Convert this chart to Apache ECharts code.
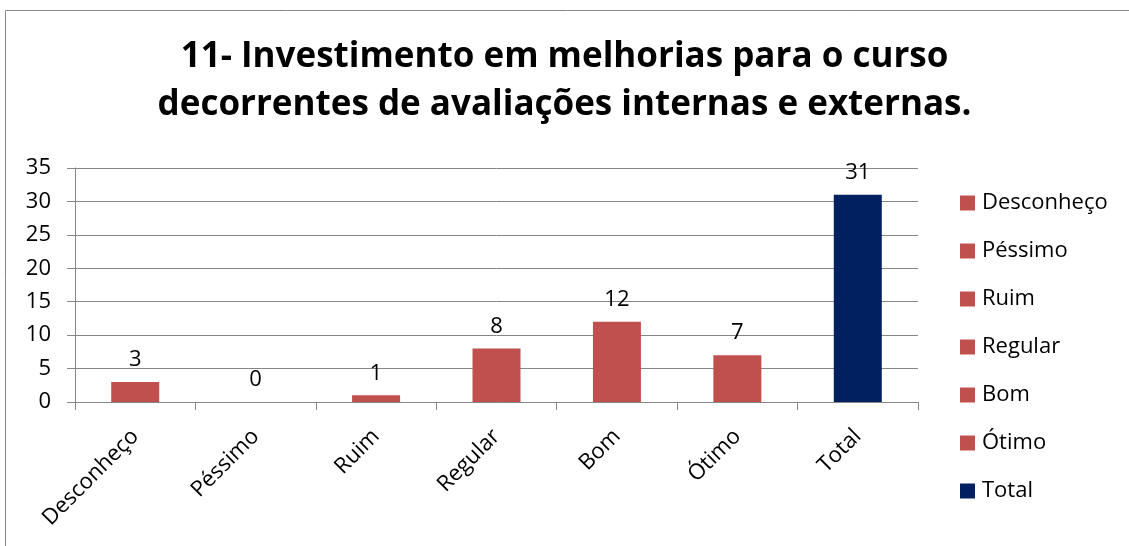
<!DOCTYPE html>
<html><head><meta charset="utf-8">
<script src="https://cdn.jsdelivr.net/npm/echarts@6/dist/echarts.min.js"></script>
<style>html,body{margin:0;padding:0;background:#fff}#c{width:1129px;height:546px}</style>
</head><body><div id="c"></div>
<script>
var categories = ['Desconheço','Péssimo','Ruim','Regular','Bom','Ótimo','Total'];
var values = [3, 0, 1, 8, 12, 7, 31];
var colors = ['#C0504D','#C0504D','#C0504D','#C0504D','#C0504D','#C0504D','#002060'];
var yTicks = {min: 0, max: 35, interval: 5};
var titleText = '11- Investimento em melhorias para o curso\ndecorrentes de avaliações internas e externas.';

var FONT = 'Open Sans';
var series = categories.map(function(name, i){
  var d = categories.map(function(c, j){ return j === i ? values[i] : '-'; });
  return {
    name: name, type: 'bar', data: d, barWidth: 48, barGap: '-100%',
    itemStyle: {color: colors[i]},
    label: {show: true, position: 'top', distance: 11, color: '#000', fontFamily: FONT, fontSize: 22},
    emphasis: {disabled: true}
  };
});
var chart = echarts.init(document.getElementById('c'), null, {renderer: 'canvas'});
chart.setOption({
  animation: false,
  textStyle: {fontFamily: FONT},
  graphic: [{type: 'rect', shape: {x: 5.5, y: 10.5, width: 1200, height: 600}, style: {fill: 'none', stroke: '#888', lineWidth: 1}, silent: true, z: -1}],
  title: {text: titleText, left: 'center', top: 28, textStyle: {fontFamily: FONT, fontWeight: 'bold', fontSize: 35, lineHeight: 48, color: '#000'}},
  grid: {left: 75, right: 211, top: 168, bottom: 144, containLabel: false},
  legend: {orient: 'vertical', left: 955, top: 187, itemWidth: 15, itemHeight: 15, itemGap: 26, icon: 'rect',
    textStyle: {fontFamily: FONT, fontSize: 22, color: '#000', padding: [0,0,0,2]}, data: categories},
  xAxis: {type: 'category', data: categories,
    axisLine: {lineStyle: {color: '#868686', width: 1}},
    axisTick: {show: true, length: 8, lineStyle: {color: '#868686'}},
    axisLabel: {rotate: 45, fontFamily: FONT, fontSize: 22, color: '#000', margin: 31, interval: 0}},
  yAxis: {type: 'value', min: yTicks.min, max: yTicks.max, interval: yTicks.interval,
    axisLine: {show: true, lineStyle: {color: '#868686'}},
    axisTick: {show: true, length: 8, lineStyle: {color: '#868686'}},
    splitLine: {lineStyle: {color: '#868686'}},
    axisLabel: {fontFamily: FONT, fontSize: 22, color: '#000', margin: 24}},
  series: series
});
</script></body></html>
